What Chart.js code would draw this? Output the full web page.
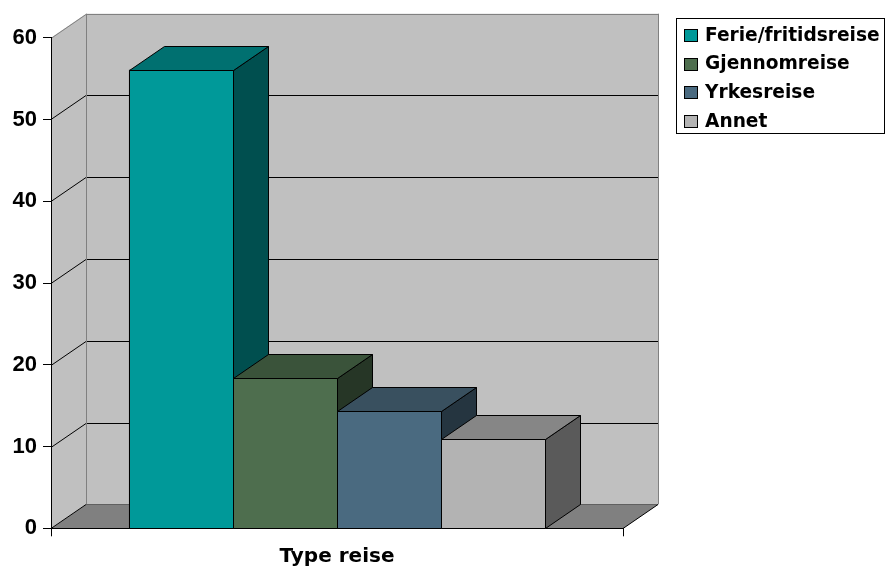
<!DOCTYPE html>
<html>
<head>
<meta charset="utf-8">
<script src="https://cdn.jsdelivr.net/npm/chart.js@4/dist/chart.umd.min.js"></script>
<style>
  html, body { margin: 0; padding: 0; background: #ffffff; }
  #wrap { width: 885px; height: 568px; position: relative; }
</style>
</head>
<body>
<div id="wrap"><canvas id="c"></canvas></div>
<script>
// Reisetype (prosent)
const categories = ['Type reise'];
const seriesNames = ['Ferie/fritidsreise', 'Gjennomreise', 'Yrkesreise', 'Annet'];
const ferie = [56.1];
const gjennomreise = [18.4];
const yrkesreise = [14.3];
const annet = [10.9];
const yTicks = [0, 10, 20, 30, 40, 50, 60];

// Face colours for the box bars: front, top, side
const frontColors = ['#009999', '#4e6e4e', '#4a6a80', '#b3b3b3'];
const topColors   = ['#007070', '#3a533a', '#39505f', '#868686'];
const sideColors  = ['#004f4f', '#263626', '#253540', '#5a5a5a'];

// Depth offset of the back wall
const DX = 35, DY = -24;

const seriesValues = [ferie, gjennomreise, yrkesreise, annet];

function line(ctx, pts, color) {
  ctx.beginPath();
  ctx.moveTo(pts[0][0], pts[0][1]);
  for (let i = 1; i < pts.length; i++) ctx.lineTo(pts[i][0], pts[i][1]);
  ctx.strokeStyle = color;
  ctx.lineWidth = 1;
  ctx.stroke();
}
function poly(ctx, pts, fill, stroke) {
  ctx.beginPath();
  ctx.moveTo(pts[0][0], pts[0][1]);
  for (let i = 1; i < pts.length; i++) ctx.lineTo(pts[i][0], pts[i][1]);
  ctx.closePath();
  ctx.fillStyle = fill;
  ctx.fill();
  if (stroke) { ctx.strokeStyle = stroke; ctx.lineWidth = 1; ctx.stroke(); }
}

// Walls, floor and gridlines behind the bars
const room = {
  id: 'room',
  beforeDraw(chart) {
    const ctx = chart.ctx;
    const y = chart.scales.y;
    const L = chart.chartArea.left, R = chart.chartArea.right;
    const top = y.getPixelForValue(yTicks[yTicks.length - 1]);
    const base = y.getPixelForValue(0);
    ctx.save();
    // side wall
    poly(ctx, [[L, top], [L + DX, top + DY], [L + DX, base + DY], [L, base]], '#c0c0c0');
    // back wall
    poly(ctx, [[L + DX, top + DY], [R + DX, top + DY], [R + DX, base + DY], [L + DX, base + DY]], '#c0c0c0');
    // gridlines on back and side wall
    yTicks.forEach(v => {
      if (v === 0) return;
      const p = Math.round(y.getPixelForValue(v)) + 0.5;
      const col = v === yTicks[yTicks.length - 1] ? '#808080' : '#000000';
      line(ctx, [[L, p], [L + DX, p + DY], [R + DX, p + DY]], col);
    });
    // wall edges
    line(ctx, [[L + DX + 0.5, top + DY], [L + DX + 0.5, base + DY]], '#808080');
    line(ctx, [[R + DX + 0.5, top + DY], [R + DX + 0.5, base + DY]], '#808080');
    // floor
    const b = Math.round(base) + 0.5;
    poly(ctx, [[L, b], [L + DX, b + DY], [R + DX, b + DY], [R, b]], '#808080');
    line(ctx, [[L + DX, b + DY], [R + DX, b + DY]], '#606060');
    line(ctx, [[L, b], [L + DX, b + DY]], '#000000');
    line(ctx, [[R, b], [R + DX, b + DY]], '#000000');
    ctx.restore();
  }
};

// Top and side faces of each bar, drawn left to right so nearer faces overlap
const boxes = {
  id: 'boxes',
  afterDatasetsDraw(chart) {
    const ctx = chart.ctx;
    ctx.save();
    chart.data.datasets.forEach((ds, i) => {
      const meta = chart.getDatasetMeta(i);
      meta.data.forEach(el => {
        const p = el.getProps(['x', 'y', 'base', 'width'], true);
        const l = Math.round(p.x - p.width / 2) + 0.5;
        const r = Math.round(p.x + p.width / 2) + 0.5;
        const t = Math.round(p.y) + 0.5;
        const b = Math.round(p.base) + 0.5;
        poly(ctx, [[r, t], [r + DX, t + DY], [r + DX, b + DY], [r, b]], sideColors[i], '#000000');
        poly(ctx, [[l, t], [l + DX, t + DY], [r + DX, t + DY], [r, t]], topColors[i], '#000000');
        poly(ctx, [[l, t], [r, t], [r, b], [l, b]], frontColors[i], '#000000');
      });
    });
    ctx.restore();
  }
};

// Framed legend at the upper right
const boxLegend = {
  id: 'boxLegend',
  afterDraw(chart) {
    const ctx = chart.ctx;
    ctx.save();
    ctx.strokeStyle = '#000000';
    ctx.lineWidth = 1;
    ctx.strokeRect(676.5, 18.5, 208, 115);
    const rows = [35, 63.5, 92, 121];
    ctx.font = 'bold 18.6px "DejaVu Sans"';
    ctx.textBaseline = 'middle';
    ctx.textAlign = 'left';
    chart.data.datasets.forEach((ds, i) => {
      const cy = rows[i];
      ctx.fillStyle = ds.backgroundColor;
      ctx.fillRect(684.5, Math.round(cy - 6) + 0.5, 13, 12);
      ctx.strokeRect(684.5, Math.round(cy - 6) + 0.5, 13, 12);
      ctx.fillStyle = '#000000';
      ctx.fillText(ds.label, 705, cy + 1);
    });
    ctx.restore();
  }
};

new Chart(document.getElementById('c'), {
  type: 'bar',
  data: {
    labels: categories,
    datasets: seriesNames.map((name, i) => ({
      label: name,
      data: seriesValues[i],
      backgroundColor: frontColors[i],
      borderColor: '#000000',
      borderWidth: 1,
      borderSkipped: false,
      categoryPercentage: 0.728,
      barPercentage: 1.0
    }))
  },
  options: {
    responsive: true,
    maintainAspectRatio: false,
    animation: false,
    layout: { padding: { left: 0, right: 262, top: 37.7, bottom: 0 } },
    plugins: {
      legend: { display: false },
      tooltip: { enabled: false }
    },
    scales: {
      x: {
        offset: true,
        grid: { display: true, drawOnChartArea: false, drawTicks: true, tickLength: 8, color: '#000000', offset: true },
        border: { display: true, color: '#000000', width: 1 },
        ticks: { color: '#000000', font: { family: '"DejaVu Sans"', weight: 'bold', size: 20 }, padding: 8 },
        afterFit(scale) { scale.height = 568 - 528.3; }
      },
      y: {
        min: 0,
        max: 60,
        afterBuildTicks(scale) { scale.ticks = yTicks.map(v => ({ value: v })); },
        grid: { display: true, drawOnChartArea: false, drawTicks: true, tickLength: 8, color: '#000000' },
        border: { display: true, color: '#000000', width: 1 },
        ticks: { color: '#000000', font: { family: '"Liberation Sans", Arial, sans-serif', weight: 'bold', size: 22 }, padding: 6 },
        afterFit(scale) { scale.width = 51; }
      }
    }
  },
  plugins: [room, boxes, boxLegend]
});
</script>
</body>
</html>
